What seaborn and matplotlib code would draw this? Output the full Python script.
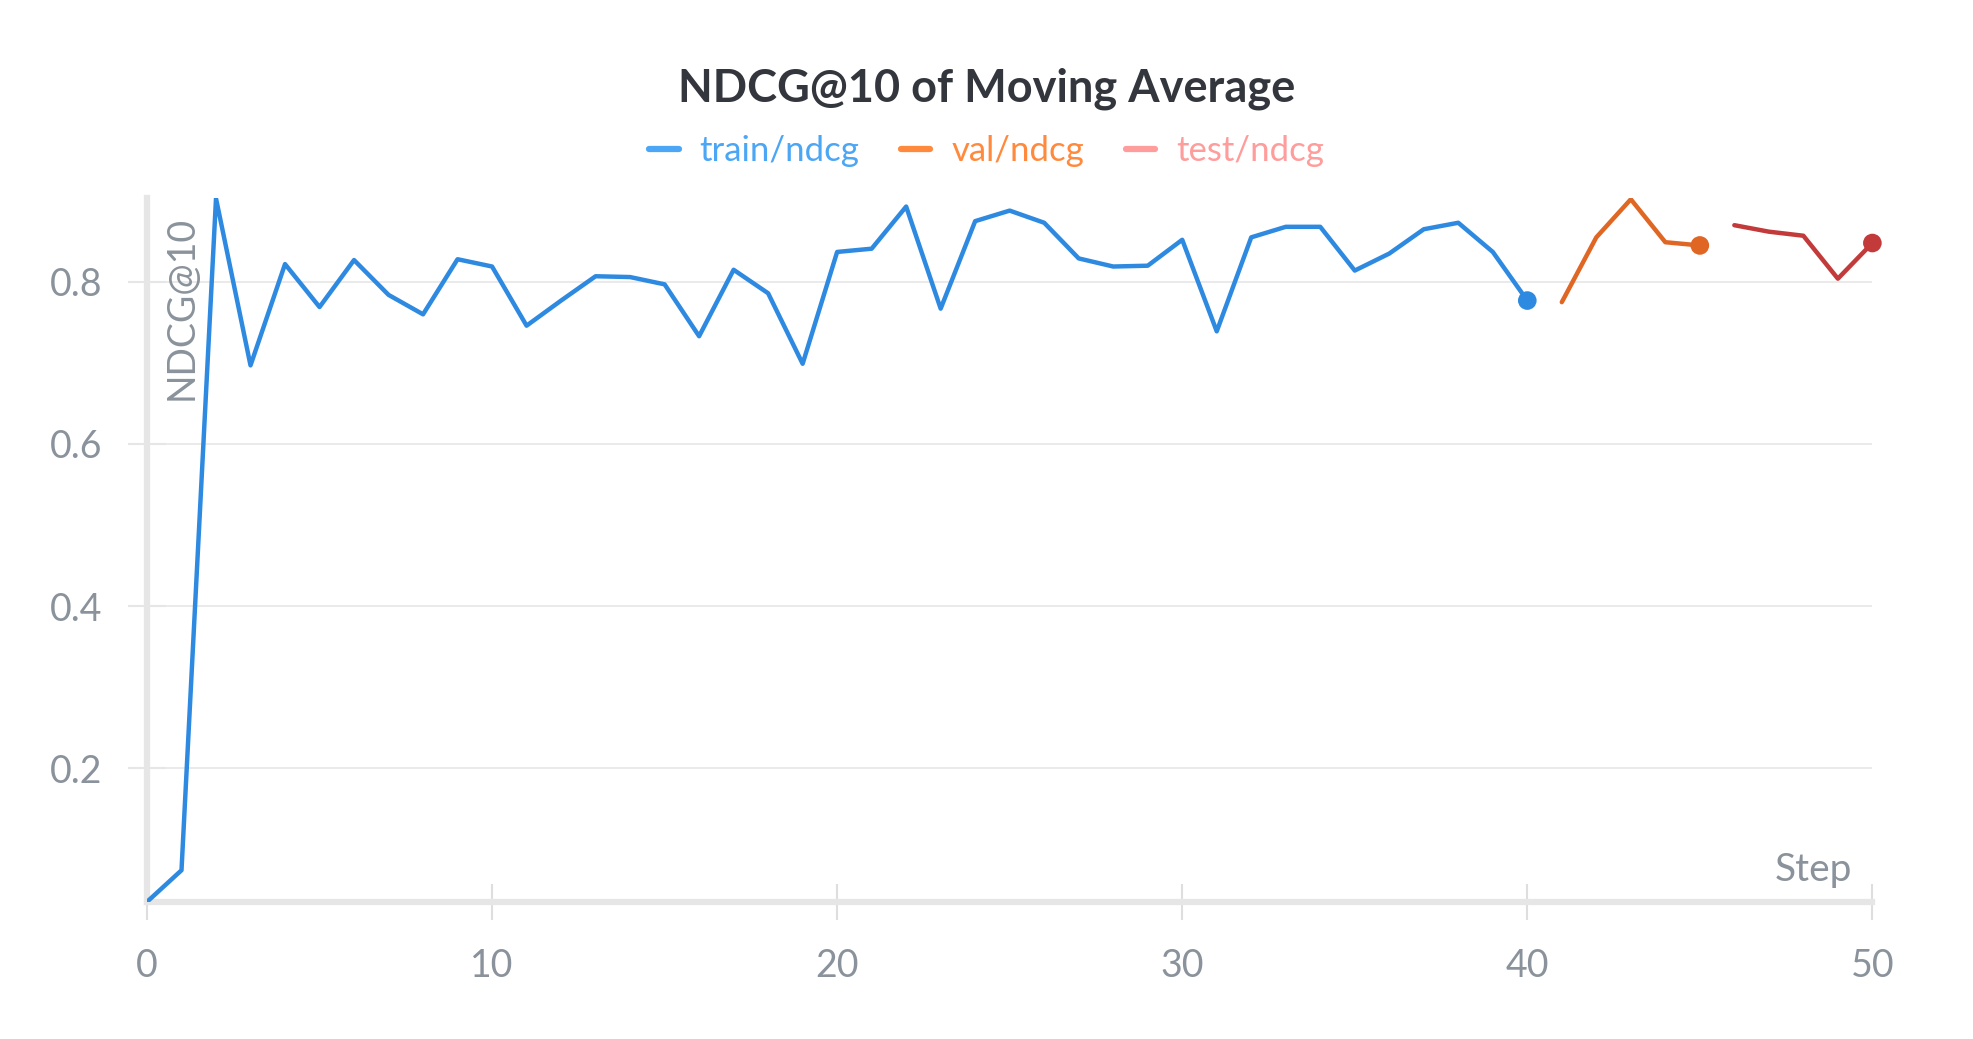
import pandas as pd
import numpy as np
import matplotlib.pyplot as plt
import seaborn as sns

# values
train_steps = list(range(0, 41))
train_ndcg = [0.035, 0.074, 0.903, 0.697, 0.822, 0.769, 0.827, 0.784, 0.760, 0.828,
              0.819, 0.746, 0.777, 0.807, 0.806, 0.797, 0.733, 0.815, 0.786, 0.699,
              0.837, 0.841, 0.893, 0.767, 0.875, 0.888, 0.873, 0.829, 0.819, 0.820,
              0.852, 0.739, 0.855, 0.868, 0.868, 0.814, 0.835, 0.865, 0.873, 0.837,
              0.777]
val_steps = [41, 42, 43, 44, 45]
val_ndcg = [0.775, 0.855, 0.902, 0.849, 0.845]
test_steps = [46, 47, 48, 49, 50]
test_ndcg = [0.870, 0.862, 0.857, 0.804, 0.848]

series_names = ['train/ndcg', 'val/ndcg', 'test/ndcg']
line_colors = ['#2e8ae0', '#e06624', '#c23a3a']
legend_colors = ['#4ba6f5', '#ff8a3d', '#ff9c9c']
x_ticks = [0, 10, 20, 30, 40, 50]
y_ticks = [0.2, 0.4, 0.6, 0.8]

df = pd.concat([
    pd.DataFrame({'step': train_steps, 'ndcg': train_ndcg, 'series': series_names[0]}),
    pd.DataFrame({'step': val_steps, 'ndcg': val_ndcg, 'series': series_names[1]}),
    pd.DataFrame({'step': test_steps, 'ndcg': test_ndcg, 'series': series_names[2]}),
])
last = df.groupby('series', sort=False).tail(1)

sns.set_theme(style='white')
plt.rcParams['font.family'] = ['Lato', 'DejaVu Sans']

grey_text = '#8a929b'
axis_grey = '#e6e6e6'

fig = plt.figure(figsize=(19.73, 10.39), dpi=100)
ax = fig.add_axes([0.0745, 0.132, 0.8745, 0.677])

palette = dict(zip(series_names, line_colors))
sns.lineplot(data=df, x='step', y='ndcg', hue='series', palette=palette,
             linewidth=3.2, legend=False, ax=ax, zorder=3)
sns.scatterplot(data=last, x='step', y='ndcg', hue='series', palette=palette,
                s=180, edgecolor='none', legend=False, ax=ax, zorder=4, clip_on=False)

ax.set_xlim(0, 50)
ax.set_ylim(min(train_ndcg), max(train_ndcg))
ax.set_xticks(x_ticks)
ax.set_yticks(y_ticks)
ax.set_yticklabels([f'{v:.1f}' for v in y_ticks])
ax.grid(axis='y', color=axis_grey, linewidth=1.2)
ax.set_axisbelow(True)

for side in ['top', 'right']:
    ax.spines[side].set_visible(False)
for side in ['left', 'bottom']:
    ax.spines[side].set_color(axis_grey)
    ax.spines[side].set_linewidth(4.5)

ax.tick_params(axis='x', bottom=True, direction='inout', length=26, width=1.5,
               color='#dedede', labelsize=27, labelcolor=grey_text, pad=20)
ax.tick_params(axis='y', left=True, direction='inout', length=28, width=1.5,
               color=axis_grey, labelsize=27, labelcolor=grey_text, pad=18)
ax.set_xlabel('')
ax.set_ylabel('')

ax.text(0.02, 0.975, 'NDCG@10', transform=ax.transAxes, rotation=90,
        ha='center', va='top', fontsize=27, color=grey_text)
ax.text(0.988, 0.045, 'Step', transform=ax.transAxes, ha='right', va='center',
        fontsize=28, color=grey_text)

fig.text(0.5, 0.915, 'NDCG@10 of Moving Average', ha='center', va='center',
         fontsize=32.5, fontweight='bold', color='#33363d')

handles = [plt.Line2D([0], [0], color=c, linewidth=4.5, solid_capstyle='round')
           for c in legend_colors]
leg = fig.legend(handles, series_names, loc='center', bbox_to_anchor=(0.5, 0.855),
                 ncol=3, frameon=False, fontsize=25, handlelength=0.85,
                 handletextpad=0.6, columnspacing=1.2)
for txt, c in zip(leg.get_texts(), legend_colors):
    txt.set_color(c)

fig.savefig('out.png', dpi=100, facecolor='white')
